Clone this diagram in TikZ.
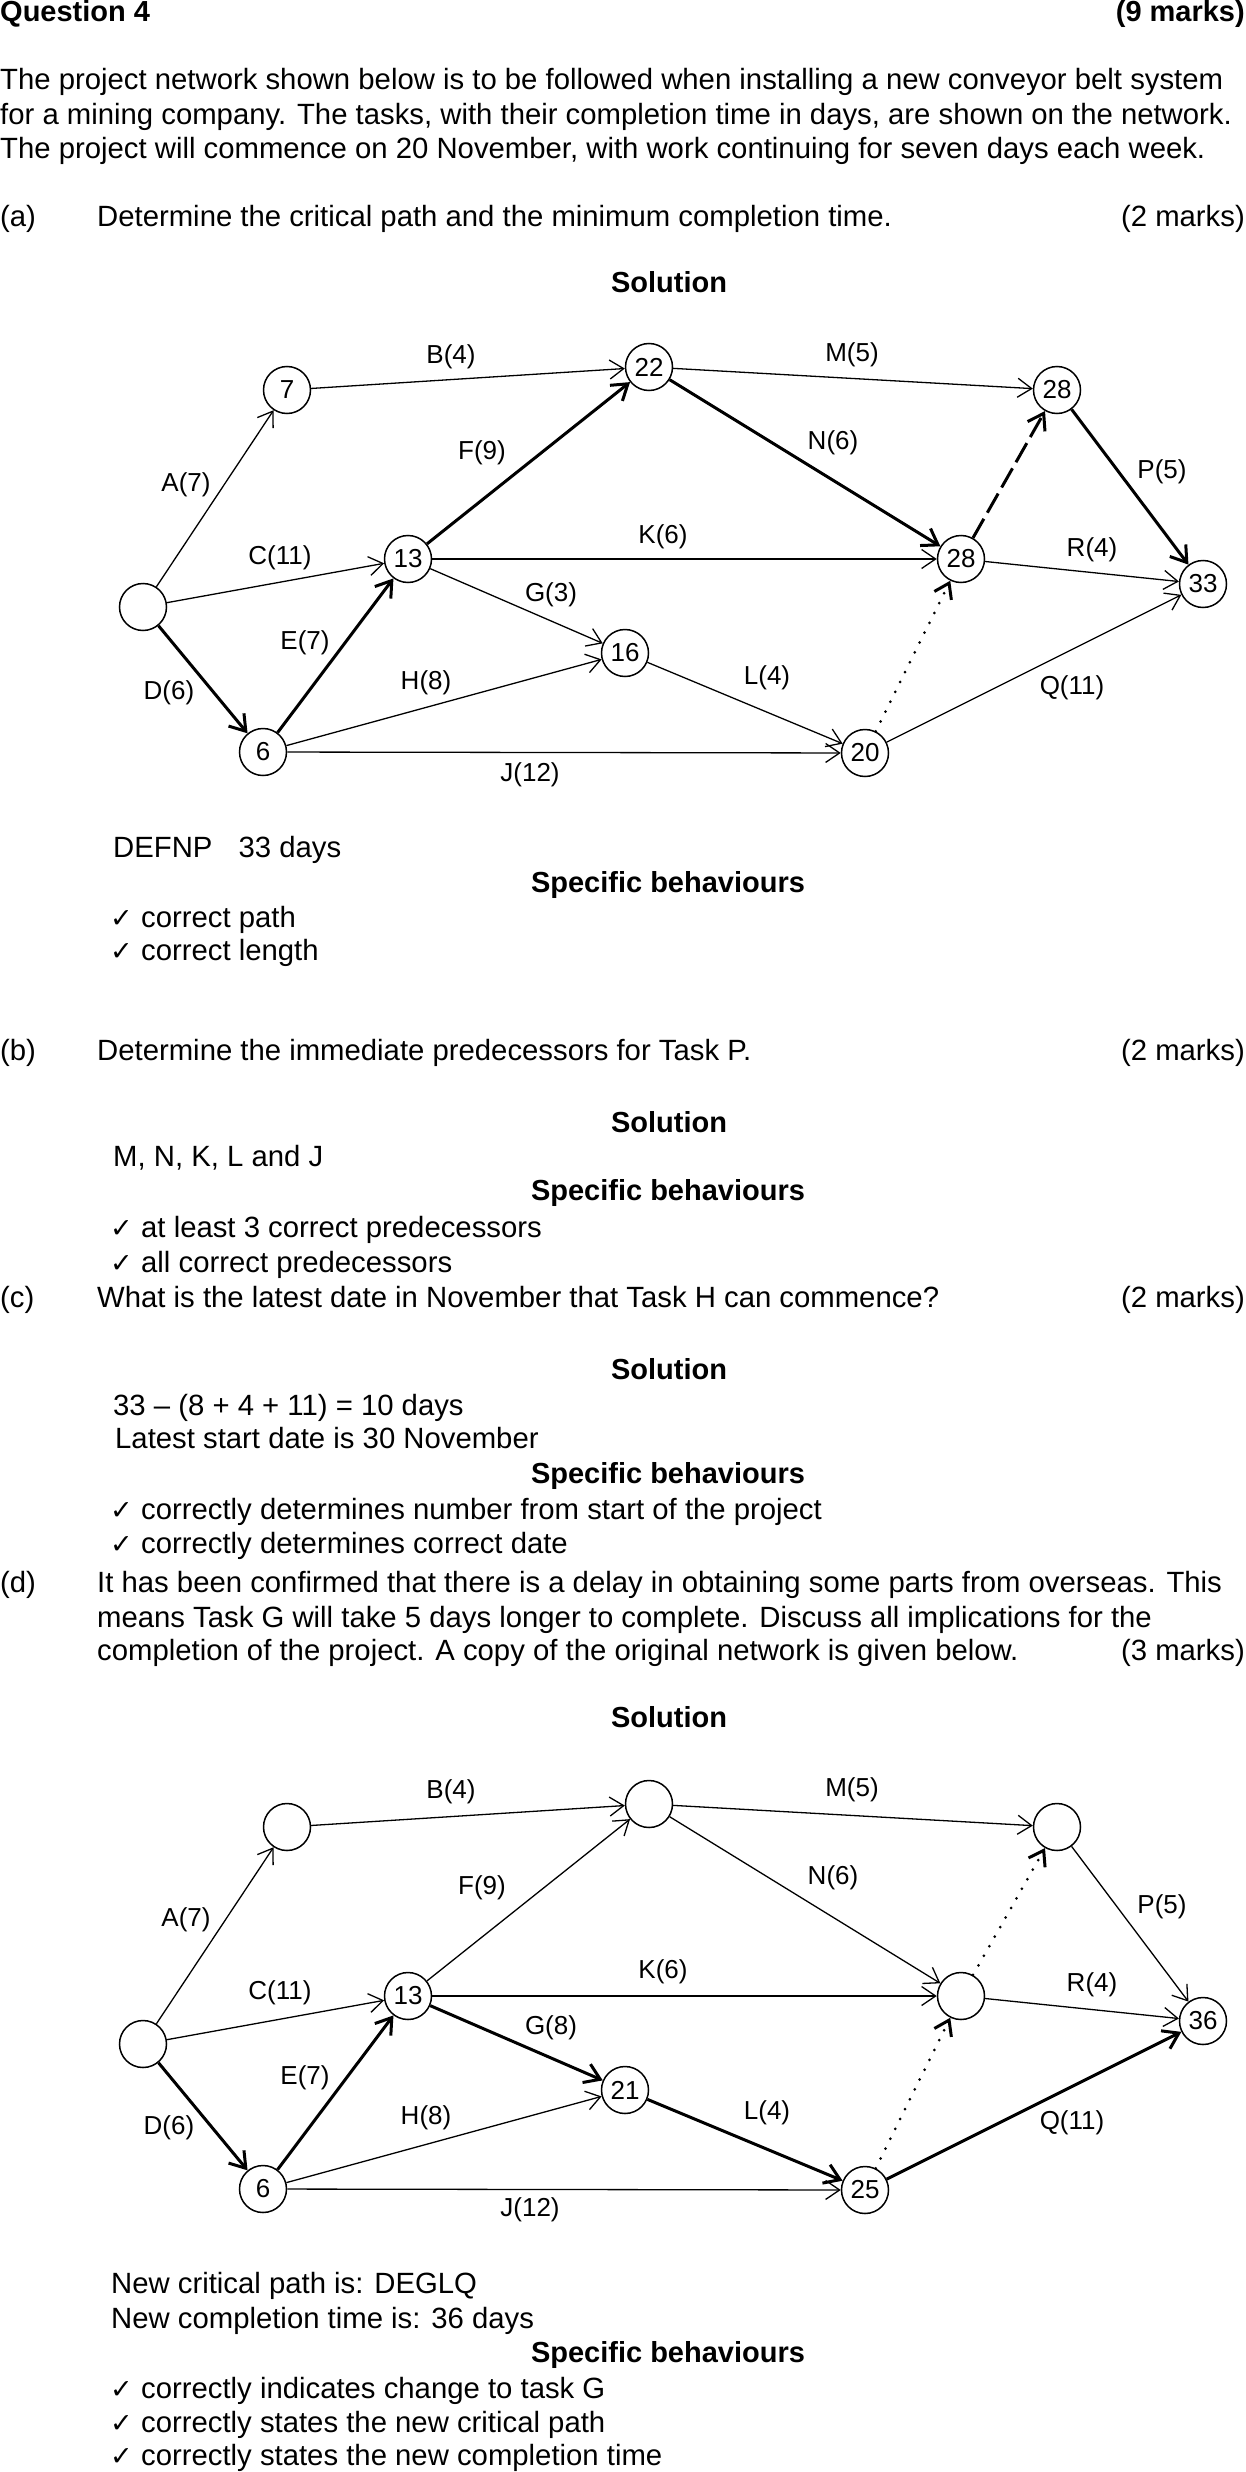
\documentclass[tikz,border=0pt]{standalone}
\usepackage{fontspec}
\setmainfont{Liberation Sans}
\newfontfamily\chkfont{DejaVu Sans}
\usetikzlibrary{arrows.meta}
\tikzset{
  txt/.style={anchor=base west,inner sep=0pt,font=\fontsize{29.3}{34}\selectfont},
  txtr/.style={anchor=base east,inner sep=0pt,font=\fontsize{29.3}{34}\selectfont},
  boldr/.style={anchor=base east,inner sep=0pt,font=\fontsize{29}{34}\selectfont\bfseries},
  boldl/.style={anchor=base west,inner sep=0pt,font=\fontsize{29}{34}\selectfont\bfseries},
  hd/.style={anchor=base,inner sep=0pt,font=\fontsize{29}{34}\selectfont\bfseries},
  tick/.style={anchor=base west,inner sep=0pt,font=\fontsize{27}{34}\chkfont},
  ev/.style={circle,draw,line width=1.5pt,minimum size=47pt,inner sep=0pt,font=\fontsize{26}{30}\selectfont},
  lab/.style={inner sep=0pt,font=\fontsize{26}{30}\selectfont},
  act/.style={line width=1.3pt,-{Straight Barb[length=14pt,width=19pt]}},
  crit/.style={line width=3pt,-{Straight Barb[length=15pt,width=20pt]}},
  dotline/.style={line width=3pt,line cap=round,dash pattern=on 0pt off 11pt,-{Straight Barb[length=14pt,width=19pt,line cap=butt]}},
  dashline/.style={line width=3pt,dash pattern=on 22pt off 7pt,-{Straight Barb[length=15pt,width=20pt]}}
}
\begin{document}
\begin{tikzpicture}[x=1pt,y=-1pt]
\useasboundingbox (0,0) rectangle (1245,2472);

% ---------- header ----------
\node[boldl] (q4) at (0,22) {Question 4};
\node[boldr] (q4m) at (1245,22) {(9 marks)};
\node[txt] (p1) at (0,90) {The project network shown below is to be followed when installing a new conveyor belt system};
\node[txt] (p2) at (0,125) {for a mining company. The tasks, with their completion time in days, are shown on the network.};
\node[txt] (p3) at (0,159) {The project will commence on 20 November, with work continuing for seven days each week.};

\node[txt] (al) at (0,227) {(a)};
\node[txt] (aq) at (97,227) {Determine the critical path and the minimum completion time.};
\node[txtr] (am) at (1245,227) {(2 marks)};
\node[hd] (as) at (669,293) {Solution};

% ---------- network 1 ----------
\node[ev] (s1) at (143,607) {};
\node[ev] (a7) at (287,390) {7};
\node[ev] (a22) at (649,367) {22};
\node[ev] (a13) at (408,559) {13};
\node[ev] (a16) at (625,653) {16};
\node[ev] (a6) at (263,752) {6};
\node[ev] (a20) at (865,753) {20};
\node[ev] (a28m) at (961,559) {28};
\node[ev] (a28t) at (1057,390) {28};
\node[ev] (a33) at (1203,584) {33};

\draw[act] (s1) -- (a7);
\draw[act] (a7) -- (a22);
\draw[act] (s1) -- (a13);
\draw[crit] (s1) -- (a6);
\draw[crit] (a6) -- (a13);
\draw[crit] (a13) -- (a22);
\draw[act] (a13) -- (a16);
\draw[act] (a6) -- (a16);
\draw[act] (a6) -- (a20);
\draw[act] (a13) -- (a28m);
\draw[act] (a16) -- (a20);
\draw[act] (a22) -- (a28t);
\draw[crit] (a22) -- (a28m);
\draw[dotline] (a20) -- (a28m);
\draw[dashline] (a28m) -- (a28t);
\draw[crit] (a28t) -- (a33);
\draw[act] (a28m) -- (a33);
\draw[act] (a20) -- (a33);

\node[lab] (la1) at (186,485) {A(7)};
\node[lab] (lb1) at (451,357) {B(4)};
\node[lab] (lc1) at (280,558) {C(11)};
\node[lab] (ld1) at (169,693) {D(6)};
\node[lab] (le1) at (305,643) {E(7)};
\node[lab] (lf1) at (482,453) {F(9)};
\node[lab] (lg1) at (551,595) {G(3)};
\node[lab] (lh1) at (426,683) {H(8)};
\node[lab] (lj1) at (530,775) {J(12)};
\node[lab] (lk1) at (663,537) {K(6)};
\node[lab] (ll1) at (767,678) {L(4)};
\node[lab] (lm1) at (852,355) {M(5)};
\node[lab] (ln1) at (833,443) {N(6)};
\node[lab] (lp1) at (1162,472) {P(5)};
\node[lab] (lq1) at (1072,688) {Q(11)};
\node[lab] (lr1) at (1092,550) {R(4)};

% ---------- (a) answer ----------
\node[txt] (aa) at (113,857) {DEFNP\hspace{18pt} 33 days};
\node[hd] (asb) at (668,892) {Specific behaviours};
\node[tick] (ak1) at (110,927) {✓};
\node[txt] (at1) at (141,927) {correct path};
\node[tick] (ak2) at (110,960) {✓};
\node[txt] (at2) at (141,960) {correct length};

% ---------- (b) ----------
\node[txt] (bl) at (0,1060) {(b)};
\node[txt] (bq) at (97,1060) {Determine the immediate predecessors for Task P.};
\node[txtr] (bm) at (1245,1060) {(2 marks)};
\node[hd] (bs) at (669,1132) {Solution};
\node[txt] (ba) at (113,1166) {M, N, K, L and J};
\node[hd] (bsb) at (668,1200) {Specific behaviours};
\node[tick] (bk1) at (110,1237) {✓};
\node[txt] (bt1) at (141,1237) {at least 3 correct predecessors};
\node[tick] (bk2) at (110,1272) {✓};
\node[txt] (bt2) at (141,1272) {all correct predecessors};

% ---------- (c) ----------
\node[txt] (cl) at (0,1307) {(c)};
\node[txt] (cq) at (97,1307) {What is the latest date in November that Task H can commence?};
\node[txtr] (cm) at (1245,1307) {(2 marks)};
\node[hd] (cs) at (669,1379) {Solution};
\node[txt] (ca1) at (113,1415) {33 – (8 + 4 + 11) = 10 days};
\node[txt] (ca2) at (115,1448) {Latest start date is 30 November};
\node[hd] (csb) at (668,1483) {Specific behaviours};
\node[tick] (ck1) at (110,1519) {✓};
\node[txt] (ct1) at (141,1519) {correctly determines number from start of the project};
\node[tick] (ck2) at (110,1553) {✓};
\node[txt] (ct2) at (141,1553) {correctly determines correct date};

% ---------- (d) ----------
\node[txt] (dl) at (0,1592) {(d)};
\node[txt] (dq1) at (97,1592) {It has been confirmed that there is a delay in obtaining some parts from overseas. This};
\node[txt] (dq2) at (97,1627) {means Task G will take 5 days longer to complete. Discuss all implications for the};
\node[txt] (dq3) at (97,1660) {completion of the project. A copy of the original network is given below.};
\node[txtr] (dm) at (1245,1660) {(3 marks)};
\node[hd] (ds) at (669,1727) {Solution};

% ---------- network 2 ----------
\node[ev] (s2) at (143,2044) {};
\node[ev] (b7) at (287,1827) {};
\node[ev] (b22) at (649,1804) {};
\node[ev] (b13) at (408,1996) {13};
\node[ev] (b21) at (625,2090) {21};
\node[ev] (b6) at (263,2189) {6};
\node[ev] (b25) at (865,2190) {25};
\node[ev] (bmid) at (961,1996) {};
\node[ev] (btop) at (1057,1827) {};
\node[ev] (b36) at (1203,2021) {36};

\draw[act] (s2) -- (b7);
\draw[act] (b7) -- (b22);
\draw[act] (s2) -- (b13);
\draw[crit] (s2) -- (b6);
\draw[crit] (b6) -- (b13);
\draw[act] (b13) -- (b22);
\draw[crit] (b13) -- (b21);
\draw[act] (b6) -- (b21);
\draw[act] (b6) -- (b25);
\draw[act] (b13) -- (bmid);
\draw[crit] (b21) -- (b25);
\draw[act] (b22) -- (btop);
\draw[act] (b22) -- (bmid);
\draw[dotline] (b25) -- (bmid);
\draw[dotline] (bmid) -- (btop);
\draw[act] (btop) -- (b36);
\draw[act] (bmid) -- (b36);
\draw[crit] (b25) -- (b36);

\node[lab] (la2) at (186,1920) {A(7)};
\node[lab] (lb2) at (451,1792) {B(4)};
\node[lab] (lc2) at (280,1993) {C(11)};
\node[lab] (ld2) at (169,2128) {D(6)};
\node[lab] (le2) at (305,2078) {E(7)};
\node[lab] (lf2) at (482,1888) {F(9)};
\node[lab] (lg2) at (551,2028) {G(8)};
\node[lab] (lh2) at (426,2118) {H(8)};
\node[lab] (lj2) at (530,2210) {J(12)};
\node[lab] (lk2) at (663,1972) {K(6)};
\node[lab] (ll2) at (767,2113) {L(4)};
\node[lab] (lm2) at (852,1790) {M(5)};
\node[lab] (ln2) at (833,1878) {N(6)};
\node[lab] (lp2) at (1162,1907) {P(5)};
\node[lab] (lq2) at (1072,2123) {Q(11)};
\node[lab] (lr2) at (1092,1985) {R(4)};

% ---------- (d) answer ----------
\node[txt] (da1) at (111,2293) {New critical path is: DEGLQ};
\node[txt] (da2) at (111,2328) {New completion time is: 36 days};
\node[hd] (dsb) at (668,2362) {Specific behaviours};
\node[tick] (dk1) at (110,2398) {✓};
\node[txt] (dt1) at (141,2398) {correctly indicates change to task G};
\node[tick] (dk2) at (110,2432) {✓};
\node[txt] (dt2) at (141,2432) {correctly states the new critical path};
\node[tick] (dk3) at (110,2465) {✓};
\node[txt] (dt3) at (141,2465) {correctly states the new completion time};
\end{tikzpicture}
\end{document}
